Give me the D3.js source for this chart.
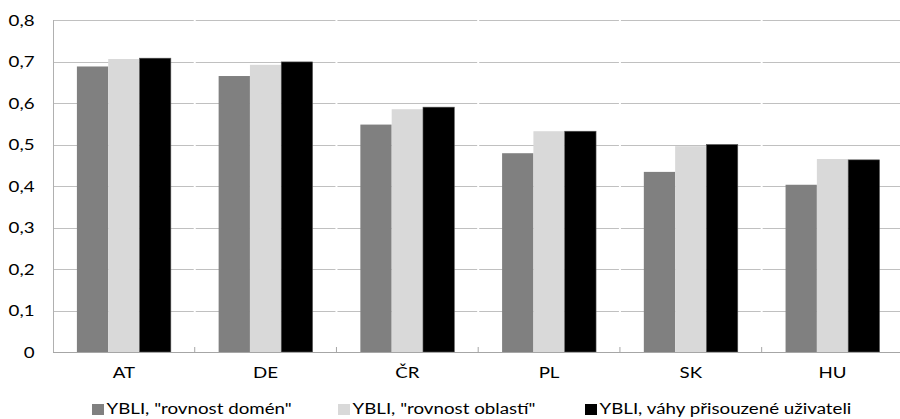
<!DOCTYPE html>
<html>
<head>
<meta charset="utf-8">
<script src="https://cdn.jsdelivr.net/npm/d3@7"></script>
<style>
  html, body { margin: 0; padding: 0; background: #fff; }
  svg { display: block; font-family: Lato, "Open Sans", sans-serif; }
</style>
</head>
<body>
<svg id="chart" width="900" height="419"></svg>
<script>
const categories = ["AT", "DE", "ČR", "PL", "SK", "HU"];
const seriesNames = ['YBLI, "rovnost domén"', 'YBLI, "rovnost oblastí"', 'YBLI, váhy přisouzené uživateli'];
const domainEquality = [0.688, 0.665, 0.548, 0.479, 0.434, 0.403];
const areaEquality   = [0.706, 0.692, 0.585, 0.532, 0.496, 0.465];
const userWeights    = [0.708, 0.699, 0.590, 0.532, 0.500, 0.463];
const yTicks = [0, 0.1, 0.2, 0.3, 0.4, 0.5, 0.6, 0.7, 0.8];
const seriesColors = ["#808080", "#d9d9d9", "#000000"];

const seriesValues = [domainEquality, areaEquality, userWeights];

(function () {
const svg = d3.select("#chart");
const plotLeft = 53, plotRight = 903.4, plotTop = 20, plotBottom = 352;
const fontSize = 16;
const stretch = "scale(1.17,1)";

const x0 = d3.scaleBand().domain(categories).range([plotLeft, plotRight]).padding(0);
const x1 = d3.scaleBand().domain(d3.range(seriesNames.length)).range([0, x0.bandwidth()]).paddingInner(0).paddingOuter(0.763);
const y = d3.scaleLinear().domain([0, 0.8]).range([plotBottom, plotTop]);

const locale = d3.formatLocale({decimal: ",", thousands: " ", grouping: [3], currency: ["", ""]});
const fmt = v => v === 0 ? "0" : locale.format(".1f")(v);

// gridlines
svg.append("g").selectAll("line").data(yTicks.filter(d => d > 0)).join("line")
  .attr("x1", plotLeft).attr("x2", 900)
  .attr("y1", d => Math.round(y(d)) + 0.5).attr("y2", d => Math.round(y(d)) + 0.5)
  .attr("stroke", "#c0c0c0").attr("stroke-width", 1.2);

// white gaps in gridlines at category boundaries
svg.append("g").selectAll("line").data(categories.slice(1)).join("line")
  .attr("x1", d => x0(d)).attr("x2", d => x0(d))
  .attr("y1", plotTop - 2).attr("y2", plotBottom - 7)
  .attr("stroke", "#fff").attr("stroke-width", 2);

// bars
const groups = svg.append("g").selectAll("g").data(categories).join("g")
  .attr("transform", d => `translate(${x0(d)},0)`);
groups.selectAll("rect").data((c, i) => seriesValues.map((s, k) => ({k, v: s[i]}))).join("rect")
  .attr("x", d => x1(d.k))
  .attr("width", x1.bandwidth())
  .attr("y", d => y(d.v))
  .attr("height", d => y(0) - y(d.v))
  .attr("fill", d => seriesColors[d.k])
  .attr("stroke", d => d.k === 2 ? "#555" : "none")
  .attr("stroke-width", 0.6);

// baseline and left axis line
svg.append("line").attr("x1", plotLeft).attr("x2", 900).attr("y1", plotBottom + 0.5).attr("y2", plotBottom + 0.5)
  .attr("stroke", "#a6a6a6").attr("stroke-width", 1.2);
svg.append("line").attr("x1", plotLeft + 0.5).attr("x2", plotLeft + 0.5).attr("y1", plotTop).attr("y2", plotBottom)
  .attr("stroke", "#b0b0b0").attr("stroke-width", 1);

// category ticks (upward)
svg.append("g").selectAll("line").data(categories.slice(1)).join("line")
  .attr("x1", d => x0(d)).attr("x2", d => x0(d))
  .attr("y1", plotBottom - 5).attr("y2", plotBottom)
  .attr("stroke", "#a6a6a6").attr("stroke-width", 1);

// y axis labels
const yAxis = d3.axisLeft(y).tickValues(yTicks).tickFormat(fmt).tickSize(0).tickPadding(0);
const ya = svg.append("g").attr("transform", `translate(34.5,0)`).call(yAxis);
ya.select(".domain").remove();
ya.selectAll("text").attr("font-size", fontSize).attr("fill", "#000")
  .attr("font-family", "Lato, sans-serif").attr("transform", stretch);

// x axis labels
const xAxis = d3.axisBottom(x0).tickSize(0).tickPadding(0);
const xa = svg.append("g").attr("transform", `translate(0,366.3)`).call(xAxis);
xa.select(".domain").remove();
xa.selectAll("text").attr("font-size", fontSize).attr("fill", "#000")
  .attr("font-family", "Lato, sans-serif").attr("transform", stretch);

// legend
const legendX = [92, 338, 585];
const lg = svg.append("g").selectAll("g").data(seriesNames).join("g")
  .attr("transform", (d, i) => `translate(${legendX[i]},404)`);
lg.append("rect").attr("width", 12).attr("height", 11).attr("fill", (d, i) => seriesColors[i]);
lg.append("g").attr("transform", "translate(14.5,10)")
  .append("text").attr("font-size", fontSize).attr("fill", "#000")
  .attr("transform", stretch).text(d => d);
})();
</script>
</body>
</html>
